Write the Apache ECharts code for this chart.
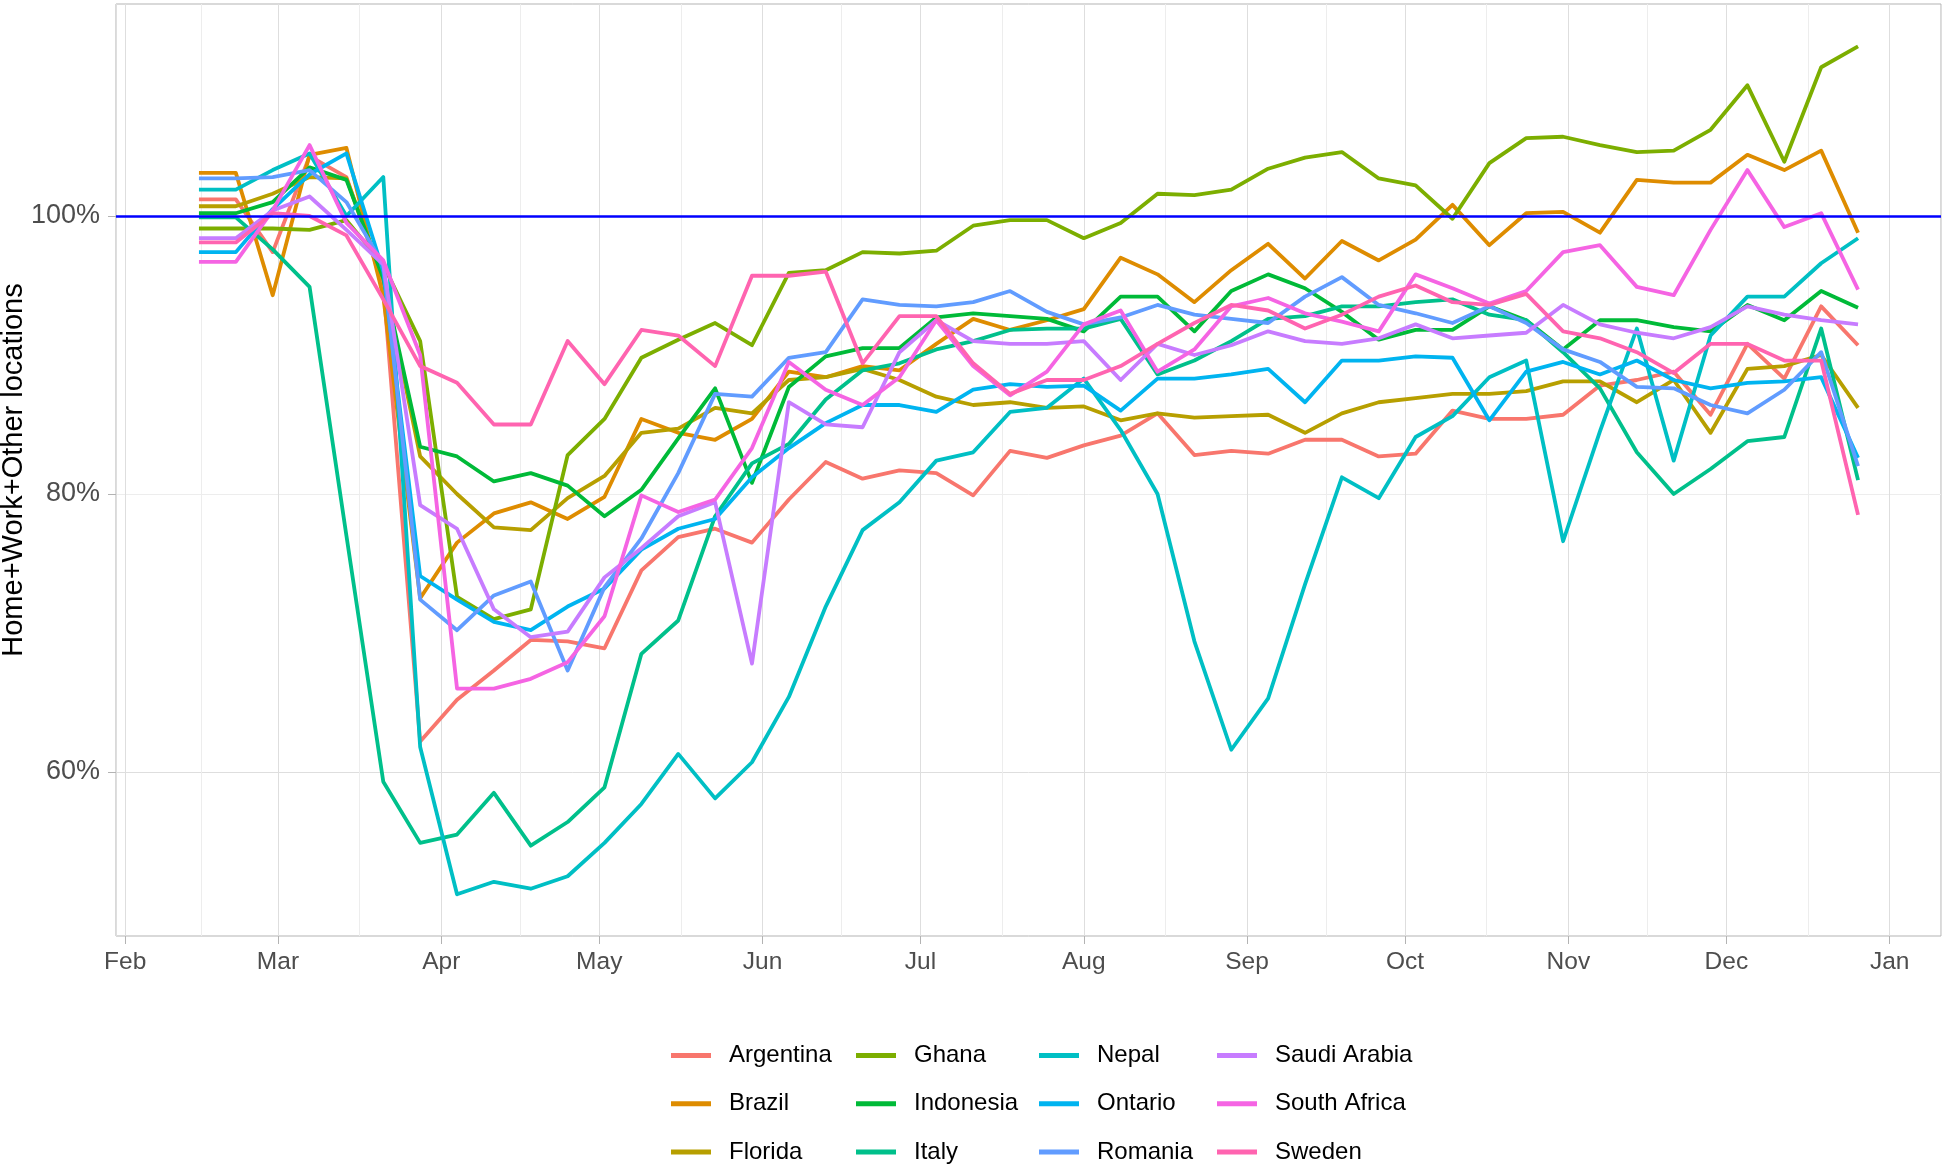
<!DOCTYPE html>
<html><head><meta charset="utf-8">
<script src="https://cdn.jsdelivr.net/npm/echarts@6/dist/echarts.min.js"></script>
<style>html,body{margin:0;padding:0;background:#fff}#c{width:1952px;height:1164px}</style>
</head><body><div id="c"></div>
<script>
// weekly dates (week start)
const weeks = ['2020-02-15','2020-02-22','2020-02-29','2020-03-07','2020-03-14','2020-03-21','2020-03-28',
'2020-04-04','2020-04-11','2020-04-18','2020-04-25','2020-05-02','2020-05-09','2020-05-16','2020-05-23','2020-05-30',
'2020-06-06','2020-06-13','2020-06-20','2020-06-27','2020-07-04','2020-07-11','2020-07-18','2020-07-25',
'2020-08-01','2020-08-08','2020-08-15','2020-08-22','2020-08-29','2020-09-05','2020-09-12','2020-09-19','2020-09-26',
'2020-10-03','2020-10-10','2020-10-17','2020-10-24','2020-10-31','2020-11-07','2020-11-14','2020-11-21','2020-11-28',
'2020-12-05','2020-12-12','2020-12-19','2020-12-26'];
const monthNames = ['Jan','Feb','Mar','Apr','May','Jun','Jul','Aug','Sep','Oct','Nov','Dec'];
// month-start x breaks (major ticks)
const monthBreaks = ['2020-02-01','2020-03-01','2020-04-01','2020-05-01','2020-06-01','2020-07-01','2020-08-01',
'2020-09-01','2020-10-01','2020-11-01','2020-12-01','2021-01-01'];
const yTickValues = [60, 80, 100];
const referenceLevel = 100;

const Argentina = [101.2,101.2,97.4,104.3,102.8,95.0,62.2,65.2,67.3,69.5,69.4,68.9,74.5,76.9,77.5,76.5,79.6,82.3,81.1,81.7,81.5,79.9,83.1,82.6,83.5,84.2,85.8,82.8,83.1,82.9,83.9,83.9,82.7,82.9,86.0,85.4,85.4,85.7,87.8,88.2,88.8,85.7,90.8,88.3,93.5,90.7];
const Brazil = [103.1,103.1,94.3,104.4,104.9,94.2,72.5,76.5,78.6,79.4,78.2,79.8,85.4,84.4,83.9,85.4,88.8,88.4,89.2,88.9,90.8,92.6,91.8,92.5,93.3,97.0,95.8,93.8,96.1,98.0,95.5,98.2,96.8,98.3,100.8,97.9,100.2,100.3,98.8,102.6,102.4,102.4,104.4,103.3,104.7,98.8];
const Florida = [100.7,100.7,101.6,102.8,102.7,95.5,82.7,80.0,77.6,77.4,79.7,81.3,84.4,84.7,86.2,85.8,88.2,88.4,89.0,88.2,87.0,86.4,86.6,86.2,86.3,85.3,85.8,85.5,85.6,85.7,84.4,85.8,86.6,86.9,87.2,87.2,87.4,88.1,88.1,86.6,88.2,84.4,89.0,89.2,90.0,86.2];
const Ghana = [99.1,99.1,99.1,99.0,99.7,96.5,91.0,72.6,71.0,71.7,82.8,85.4,89.8,91.1,92.3,90.7,95.9,96.1,97.4,97.3,97.5,99.3,99.7,99.7,98.4,99.5,101.6,101.5,101.9,103.4,104.2,104.6,102.7,102.2,99.8,103.8,105.6,105.7,105.1,104.6,104.7,106.2,109.4,103.9,110.7,112.2];
const Indonesia = [100.2,100.2,101.0,103.5,102.6,95.5,83.4,82.7,80.9,81.5,80.6,78.4,80.3,84.0,87.6,80.8,87.7,89.9,90.5,90.5,92.7,93.0,92.8,92.6,91.7,94.2,94.2,91.7,94.6,95.8,94.8,93.1,91.1,91.8,91.8,93.5,92.5,90.4,92.5,92.5,92.0,91.7,93.6,92.5,94.6,93.4];
const Italy = [99.9,99.9,97.6,94.9,77.0,59.3,54.9,55.5,58.5,54.7,56.4,58.9,68.5,70.9,78.4,82.2,83.6,86.8,88.9,89.4,90.4,91.0,91.8,91.9,91.9,92.6,88.6,89.6,91.0,92.6,92.8,93.5,93.5,93.8,94.0,92.9,92.5,90.2,87.6,83.0,80.0,81.8,83.8,84.1,91.9,81.0];
const Nepal = [101.9,101.9,103.3,104.5,100.0,102.8,61.8,51.2,52.1,51.6,52.5,54.9,57.7,61.3,58.1,60.7,65.4,71.9,77.4,79.4,82.4,83.0,85.9,86.2,88.3,84.6,80.0,69.4,61.6,65.3,73.5,81.2,79.7,84.1,85.6,88.4,89.6,76.6,84.5,91.9,82.4,91.4,94.2,94.2,96.6,98.4];
const Ontario = [97.4,97.4,100.5,103.0,104.5,96.0,74.1,72.4,70.8,70.2,71.9,73.2,76.0,77.5,78.2,81.2,83.3,85.1,86.4,86.4,85.9,87.5,87.9,87.7,87.8,86.0,88.3,88.3,88.6,89.0,86.6,89.6,89.6,89.9,89.8,85.3,88.8,89.5,88.6,89.6,88.2,87.6,88.0,88.1,88.4,82.6];
const Romania = [102.7,102.7,102.8,103.3,101.0,96.5,72.4,70.2,72.7,73.7,67.3,73.3,76.8,81.5,87.2,87.0,89.8,90.2,94.0,93.6,93.5,93.8,94.6,93.1,92.2,92.7,93.6,92.9,92.6,92.3,94.2,95.6,93.6,93.0,92.3,93.5,92.3,90.4,89.5,87.7,87.6,86.4,85.8,87.5,90.2,82.0];
const SaudiArabia = [98.4,98.4,100.4,101.4,99.0,96.5,79.2,77.5,71.7,69.7,70.1,74.0,76.1,78.4,79.4,67.8,86.6,85.0,84.8,90.2,92.5,91.0,90.8,90.8,91.0,88.2,90.8,90.0,90.7,91.7,91.0,90.8,91.2,92.2,91.2,91.4,91.6,93.6,92.2,91.6,91.2,92.0,93.5,92.9,92.5,92.2];
const SouthAfrica = [96.7,96.7,100.4,105.1,99.5,96.8,90.0,66.0,66.0,66.7,67.9,71.2,79.9,78.7,79.6,83.3,89.5,87.5,86.4,88.4,92.5,89.2,87.1,88.8,92.2,93.2,88.8,90.4,93.5,94.1,93.0,92.4,91.7,95.8,94.8,93.7,94.6,97.4,97.9,94.9,94.3,99.0,103.3,99.2,100.2,94.7];
const Sweden = [98.1,98.1,100.2,100.0,98.6,94.0,89.2,88.0,85.0,85.0,91.0,87.9,91.8,91.4,89.2,95.7,95.7,96.0,89.4,92.8,92.8,89.4,87.2,88.2,88.2,89.2,90.8,92.3,93.6,93.2,91.9,92.9,94.2,95.0,93.8,93.6,94.4,91.7,91.2,90.2,88.7,90.8,90.8,89.6,89.6,78.5];

const seriesNames = ['Argentina','Brazil','Florida','Ghana','Indonesia','Italy','Nepal','Ontario','Romania','Saudi Arabia','South Africa','Sweden'];
const seriesValues = [Argentina,Brazil,Florida,Ghana,Indonesia,Italy,Nepal,Ontario,Romania,SaudiArabia,SouthAfrica,Sweden];
const seriesColors = ['#F8766D','#DE8C00','#B79F00','#7CAE00','#00BA38','#00C08B','#00BFC4','#00B4F0','#619CFF','#C77CFF','#F564E3','#FF64B0'];

const DAY = 86400000;
const toTs = s => { const p = s.split('-').map(Number); return Date.UTC(p[0], p[1]-1, p[2]); };
const xMin = toTs(weeks[0]) - 15.75 * DAY;
const xMax = toTs(weeks[weeks.length-1]) + 15.75 * DAY;
// minor x breaks: midpoints between consecutive month breaks
const minorX = [];
for (let i = 0; i < monthBreaks.length - 1; i++) minorX.push((toTs(monthBreaks[i]) + toTs(monthBreaks[i+1])) / 2);

const FONT = 'Liberation Sans, Arial, sans-serif';

const series = [];
series.push({
  name: 'minorGrid', type: 'line', data: [], z: 1, silent: true,
  markLine: { silent: true, symbol: 'none', animation: false, z: 1,
    label: { show: false },
    lineStyle: { color: '#EDEDED', width: 1, type: 'solid' },
    data: minorX.map(v => ({ xAxis: v })) }
});
seriesNames.forEach((n, i) => series.push({
  name: n, type: 'line', showSymbol: false, symbol: 'none', z: 2,
  data: weeks.map((w, j) => [toTs(w), seriesValues[i][j]]),
  lineStyle: { color: seriesColors[i], width: 3.8, join: 'round' },
  itemStyle: { color: seriesColors[i] },
  emphasis: { disabled: true }, silent: true
}));
series.push({
  name: 'ref', type: 'line', data: [], z: 10, silent: true,
  markLine: { silent: true, symbol: 'none', animation: false, z: 10,
    label: { show: false },
    lineStyle: { color: '#0000FF', width: 2.6, type: 'solid' },
    data: [{ yAxis: referenceLevel }] }
});

const legendCols = [[0,1,2],[3,4,5],[6,7,8],[9,10,11]];
const legendLefts = [666, 851, 1034, 1212];
const legends = legendCols.map((col, ci) => ({
  orient: 'vertical', left: legendLefts[ci], top: 1038.5, height: 125,
  data: col.map(i => ({ name: seriesNames[i], icon: 'rect' })),
  itemWidth: 40, itemHeight: 5, itemGap: 24.3, selectedMode: false,
  textStyle: { fontFamily: FONT, fontSize: 24, color: '#000', lineHeight: 24, padding: [0,0,0,13] }
}));

const chart = echarts.init(document.getElementById('c'), null, { renderer: 'canvas' });
chart.setOption({
  animation: false,
  useUTC: true,
  backgroundColor: '#fff',
  grid: { left: 116, right: 11, top: 4, bottom: 228, show: true, borderColor: '#B3B3B3', borderWidth: 1,
    backgroundColor: 'transparent', containLabel: false, outerBoundsMode: 'none' },
  legend: legends,
  xAxis: {
    type: 'time', min: xMin, max: xMax, splitNumber: 12,
    minInterval: 28 * DAY, maxInterval: 31 * DAY,
    axisLine: { show: false },
    axisTick: { show: true, length: 8, lineStyle: { color: '#B3B3B3', width: 1 } },
    axisLabel: { show: true, showMinLabel: false, showMaxLabel: false, margin: 14,
      fontFamily: FONT, fontSize: 24.5, color: '#4D4D4D',
      formatter: v => monthNames[new Date(v).getUTCMonth()] },
    splitLine: { show: true, lineStyle: { color: '#DEDEDE', width: 1 } }
  },
  yAxis: {
    type: 'value', min: 48.2, max: 115.25, minInterval: 10, maxInterval: 10, splitNumber: 7,
    name: 'Home+Work+Other locations', nameLocation: 'middle', nameGap: 88, nameRotate: 90,
    nameMoveOverlap: false,
    nameTextStyle: { fontFamily: FONT, fontSize: 29, color: '#000' },
    axisLine: { show: false },
    axisTick: { show: true, length: 8, customValues: yTickValues, lineStyle: { color: '#B3B3B3', width: 1 } },
    axisLabel: { show: true, customValues: yTickValues, margin: 16, fontFamily: FONT, fontSize: 27, color: '#4D4D4D',
      formatter: v => Math.round(v) + '%' },
    splitLine: { show: true, lineStyle: { color: ['#DEDEDE', '#EDEDED'], width: 1 } }
  },
  series: series
});
</script>
</body></html>
